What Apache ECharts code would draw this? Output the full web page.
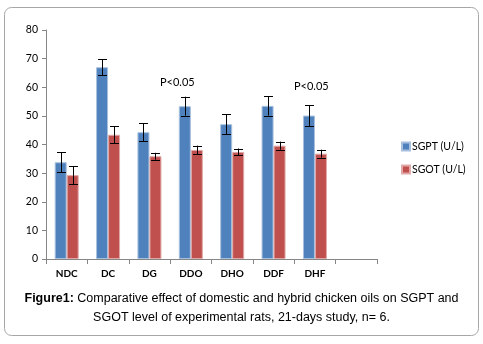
<!DOCTYPE html>
<html>
<head>
<meta charset="utf-8">
<script src="https://cdn.jsdelivr.net/npm/echarts@6/dist/echarts.min.js"></script>
<style>
html,body{margin:0;padding:0;background:#fff;}
#chart{width:483px;height:344px;}
</style>
</head>
<body>
<div id="chart"></div>
<script>
var categories = ['NDC', 'DC', 'DG', 'DDO', 'DHO', 'DDF', 'DHF', ''];
var sgpt = [33.8, 67.0, 44.3, 53.4, 47.1, 53.5, 50.1, '-'];
var sgptErr = [3.5, 2.8, 3.1, 3.3, 3.5, 3.4, 3.6, 0];
var sgot = [29.3, 43.4, 35.9, 38.1, 37.4, 39.6, 36.8, '-'];
var sgotErr = [3.2, 2.9, 1.2, 1.5, 1.2, 1.4, 1.4, 0];
var yTicks = [0, 10, 20, 30, 40, 50, 60, 70, 80];

var gapRatio = 0.42;
var axisFont = 'Lato, "Open Sans", sans-serif';

// error bar data: [categoryIndex, value, err]
function errData(vals, errs) {
    var out = [];
    for (var i = 0; i < vals.length; i++) {
        if (vals[i] !== '-') out.push([i, vals[i], errs[i]]);
    }
    return out;
}

function errRender(side) {
    return function(params, api) {
        var i = api.value(0), v = api.value(1), e = api.value(2);
        var band = api.size([1, 0])[0];
        var bw = band * (1 - gapRatio) / 2;
        var top = api.coord([i, v + e]);
        var bot = api.coord([i, v - e]);
        var x = Math.round(top[0] + side * bw / 2) + 0.5;
        var cap = 4.5;
        return {
            type: 'group',
            children: [
                {type: 'line', shape: {x1: x, y1: top[1], x2: x, y2: bot[1]}, style: {stroke: '#000', lineWidth: 1}},
                {type: 'line', shape: {x1: x - cap, y1: Math.round(top[1]) + 0.5, x2: x + cap, y2: Math.round(top[1]) + 0.5}, style: {stroke: '#000', lineWidth: 1}},
                {type: 'line', shape: {x1: x - cap, y1: Math.round(bot[1]) + 0.5, x2: x + cap, y2: Math.round(bot[1]) + 0.5}, style: {stroke: '#000', lineWidth: 1}}
            ]
        };
    };
}

var option = {
    animation: false,
    grid: {left: 46, top: 30, right: 106, bottom: 85},
    legend: {
        orient: 'vertical',
        left: 396,
        top: 136,
        itemWidth: 8,
        itemHeight: 8,
        itemGap: 12,
        icon: 'rect',
        data: ['SGPT (U/L)', 'SGOT (U/L)'],
        textStyle: {fontFamily: axisFont, fontSize: 10.5, color: '#000', padding: [0, 0, 0, -3]}
    },
    xAxis: {
        type: 'category',
        data: categories,
        axisLine: {lineStyle: {color: '#868686'}},
        axisTick: {show: true, alignWithLabel: false, length: 5, lineStyle: {color: '#868686'}},
        axisLabel: {fontFamily: axisFont, fontSize: 10, color: '#000', margin: 10, fontWeight: 'bold'}
    },
    yAxis: {
        type: 'value',
        min: yTicks[0],
        max: yTicks[yTicks.length - 1],
        interval: 10,
        axisLine: {show: true, lineStyle: {color: '#868686'}},
        axisTick: {show: true, length: 4, lineStyle: {color: '#868686'}},
        splitLine: {show: false},
        axisLabel: {fontFamily: axisFont, fontSize: 10.5, color: '#000', margin: 8}
    },
    series: [
        {
            name: 'SGPT (U/L)',
            type: 'bar',
            data: sgpt,
            barGap: '0%',
            barCategoryGap: (gapRatio * 100) + '%',
            itemStyle: {color: '#4F81BD', borderColor: '#A7C0DE', borderWidth: 1}
        },
        {
            name: 'SGOT (U/L)',
            type: 'bar',
            data: sgot,
            itemStyle: {color: '#C0504D', borderColor: '#E0A9A7', borderWidth: 1}
        },
        {
            type: 'custom',
            renderItem: errRender(-1),
            data: errData(sgpt, sgptErr),
            encode: {x: 0, y: 1},
            z: 10
        },
        {
            type: 'custom',
            renderItem: errRender(1),
            data: errData(sgot, sgotErr),
            encode: {x: 0, y: 1},
            z: 10
        }
    ],
    graphic: [
        {
            type: 'rect',
            shape: {x: 4.5, y: 7.5, width: 474, height: 328, r: 7},
            style: {fill: 'none', stroke: '#A6A6A6', lineWidth: 1},
            z: -10
        },
        {
            type: 'text', left: 160, top: 77,
            style: {text: 'P<0.05', fontFamily: axisFont, fontSize: 11, fill: '#000'}
        },
        {
            type: 'text', left: 294, top: 81,
            style: {text: 'P<0.05', fontFamily: axisFont, fontSize: 11, fill: '#000'}
        },
        {
            type: 'text', x: 241.5, y: 289,
            style: {
                text: '{b|Figure1:} Comparative effect of domestic and hybrid chicken oils on SGPT and\nSGOT level of experimental rats, 21-days study, n= 6.',
                fontFamily: '"Liberation Sans", Arial, sans-serif',
                fontSize: 12.5,
                lineHeight: 19,
                align: 'center',
                verticalAlign: 'top',
                fill: '#000',
                rich: {b: {fontWeight: 'bold', fontFamily: '"Liberation Sans", Arial, sans-serif', fontSize: 12.5, fill: '#000'}}
            }
        }
    ]
};

var myChart = echarts.init(document.getElementById('chart'));
myChart.setOption(option);
</script>
</body>
</html>
